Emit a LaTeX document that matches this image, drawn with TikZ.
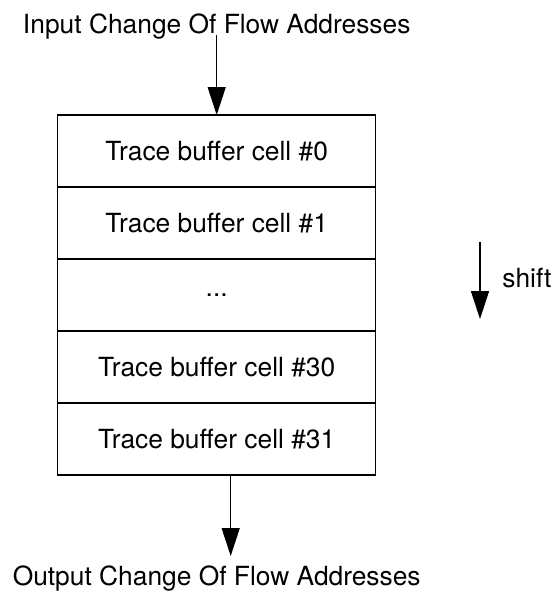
\documentclass[tikz,border=0pt]{standalone}
\usepackage{fontspec}
\setmainfont{TeX Gyre Heros}
\usetikzlibrary{arrows.meta,positioning}
\begin{document}
\begin{tikzpicture}[x=0.02cm,y=-0.02cm,font=\fontsize{15}{18}\selectfont,>={Triangle[length=0.56cm,width=0.36cm]},flow/.style={->,line width=0.75pt},cell/.style={draw,line width=0.75pt,minimum width=6.36cm,minimum height=1.44cm,outer sep=0pt,inner sep=0pt}]
\useasboundingbox (0,0) rectangle (556,592);
\node[anchor=base,inner sep=0pt] (inlabel) at (216.7,33) {Input Change Of Flow Addresses};
\node[cell] (cell0) at (216.7,151) {Trace buffer cell \#0};
\node[cell,below=0pt of cell0] (cell1) {Trace buffer cell \#1};
\node[cell,below=0pt of cell1] (dots) {...};
\node[cell,below=0pt of dots] (cell30) {Trace buffer cell \#30};
\node[cell,below=0pt of cell30] (cell31) {Trace buffer cell \#31};
\node[anchor=base,inner sep=0pt] (outlabel) at (216.7,585) {Output Change Of Flow Addresses};
\coordinate (outtip) at (230.7,556);
\draw[flow] (inlabel.south) ++(0,-4) -- (cell0.north);
\draw[flow] (cell31.south -| outtip) -- (outtip);
\coordinate (shifttop) at (480,242);\coordinate (shiftend) at (480,319);
\draw[flow] (shifttop) -- (shiftend);
\node[anchor=west,inner sep=0pt] (shiftlabel) at (502,278) {shift};
\end{tikzpicture}
\end{document}
